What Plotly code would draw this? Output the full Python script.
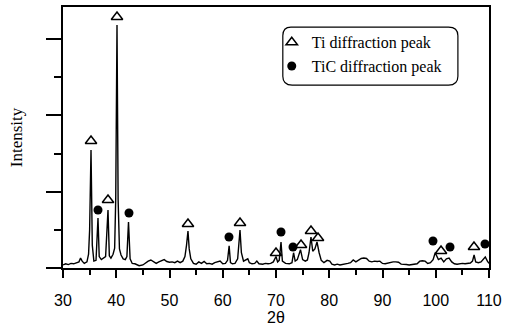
import plotly.graph_objects as go

# XRD pattern (2theta, intensity)
two_theta = [30.0, 30.5, 31.0, 31.5, 32.0, 32.5, 33.0, 33.3, 33.6, 34.0, 34.5, 34.8, 35.0, 35.26, 35.5, 35.8,
             36.2, 36.57, 36.8, 37.2, 37.6, 38.0, 38.45, 38.7, 39.0, 39.4, 39.7, 39.9, 40.14, 40.35, 40.6,
             40.9, 41.3, 41.7, 42.0, 42.3, 42.6, 43.0, 43.5, 44.0, 44.3, 45.0, 45.5, 46.0, 46.5, 47.0, 47.5,
             48.0, 48.5, 49.0, 49.5, 50.0, 50.5, 51.0, 51.5, 52.0, 52.5, 52.9, 53.2, 53.47, 53.7, 54.0, 54.5,
             55.0, 55.5, 56.0, 56.5, 57.0, 57.5, 58.0, 58.5, 59.0, 59.5, 60.0, 60.5, 60.9, 61.2, 61.45, 61.8,
             62.3, 62.8, 63.24, 63.5, 63.9, 64.3, 64.7, 65.0, 65.5, 66.0, 66.4, 66.8, 67.5, 68.0, 68.5, 69.0,
             69.5, 70.0, 70.3, 70.6, 70.94, 71.2, 71.8, 72.5, 73.0, 73.3, 73.6, 74.0, 74.6, 75.0, 75.5, 75.9,
             76.2, 76.57, 76.9, 77.3, 77.7, 78.1, 78.5, 79.0, 79.6, 80.1, 80.5, 81.0, 81.5, 82.0, 82.5, 83.0,
             83.5, 84.0, 84.5, 85.0, 85.5, 86.0, 86.5, 87.0, 87.5, 88.0, 88.5, 89.0, 89.5, 90.0, 90.5, 91.0,
             91.5, 92.0, 92.5, 93.0, 93.5, 94.0, 94.5, 95.0, 95.5, 96.0, 96.5, 97.0, 97.5, 98.0, 98.5, 99.0,
             99.5, 99.9, 100.5, 101.0, 101.5, 102.0, 102.5, 103.0, 103.5, 104.0, 104.5, 105.0, 105.5, 106.0,
             106.5, 106.9, 107.2, 107.5, 108.0, 108.5, 109.0, 109.3, 109.7, 110.0]
intensity = [40, 55, 45, 60, 55, 65, 80, 130, 90, 60, 80, 180, 500, 1546, 300, 90,
             100, 655, 150, 110, 130, 150, 760, 160, 130, 180, 260, 900, 3183, 900, 250,
             170, 120, 110, 150, 603, 120, 60, 55, 40, 30, 40, 70, 90, 105, 80, 60,
             80, 100, 110, 85, 75, 80, 70, 90, 70, 90, 150, 300, 485, 250, 120, 60,
             50, 80, 60, 85, 55, 60, 50, 70, 85, 90, 55, 60, 100, 290, 70, 55,
             60, 120, 498, 200, 90, 100, 120, 70, 55, 60, 90, 55, 50, 60, 55, 60,
             80, 150, 80, 100, 340, 90, 60, 55, 70, 200, 90, 110, 240, 110, 90, 105,
             200, 406, 220, 250, 341, 200, 100, 70, 100, 90, 50, 40, 50, 40, 45, 55,
             60, 70, 105, 80, 100, 125, 130, 125, 90, 80, 90, 85, 90, 60, 55, 65,
             80, 80, 80, 75, 50, 50, 45, 40, 45, 50, 55, 90, 95, 90, 60, 70,
             110, 200, 110, 130, 80, 120, 130, 80, 55, 50, 55, 60, 55, 60,
             65, 90, 170, 80, 70, 80, 130, 144, 90, 60]

# Peak identification markers
ti_x = [35.26, 40.14, 38.45, 53.47, 63.24, 70.0, 74.7, 76.57, 77.89, 100.99, 107.18]
ti_y = [1664, 3288, 891, 576, 590, 197, 301, 485, 393, 223, 275]
tic_x = [36.57, 42.39, 61.17, 70.94, 73.19, 99.48, 102.68, 109.25]
tic_y = [760, 720, 406, 472, 275, 354, 275, 314]

x_ticks = [30, 40, 50, 60, 70, 80, 90, 100, 110]

fig = go.Figure()
fig.add_trace(go.Scatter(x=two_theta, y=intensity, mode="lines",
                         line=dict(color="black", width=1.4), showlegend=False,
                         hoverinfo="skip"))
fig.add_trace(go.Scatter(x=ti_x, y=ti_y, mode="markers", name="Ti diffraction peak",
                         marker=dict(symbol="triangle-up-open", size=10, color="black",
                                     line=dict(width=1.5, color="black"))))
fig.add_trace(go.Scatter(x=tic_x, y=tic_y, mode="markers", name="TiC diffraction peak",
                         marker=dict(symbol="circle", size=9, color="black")))

serif = "Liberation Serif, Times New Roman, serif"
sans = "Liberation Sans, Arial, sans-serif"

fig.update_layout(
    width=511, height=327,
    margin=dict(l=63, r=22, t=7, b=59, autoexpand=False),
    paper_bgcolor="white", plot_bgcolor="white",
    font=dict(family=sans, color="black", size=16),
    legend=dict(x=0.49, y=0.93, xanchor="left", yanchor="top",
                bgcolor="rgba(0,0,0,0)", borderwidth=0,
                font=dict(family=serif, size=16, color="black"),
                tracegroupgap=0, itemwidth=30),
    xaxis=dict(range=[30, 110], tickvals=x_ticks, ticktext=[str(v) for v in x_ticks],
               showgrid=False, zeroline=False, automargin=False,
               showline=True, linecolor="black", linewidth=2, mirror=True,
               ticks="outside", ticklen=8, tickwidth=2, tickcolor="black",
               ticklabelstandoff=9,
               minor=dict(dtick=5, tick0=30, ticks="outside", ticklen=5, tickwidth=2, tickcolor="black"),
               tickfont=dict(family=sans, size=16, color="black"),
               title=dict(text="2θ", font=dict(family=sans, size=16, color="black"), standoff=1)),
    yaxis=dict(range=[0, 3420], tick0=0, dtick=1000, showticklabels=False,
               showgrid=False, zeroline=False, automargin=False,
               showline=True, linecolor="black", linewidth=2, mirror=True,
               ticks="outside", ticklen=15, tickwidth=2, tickcolor="black",
               minor=dict(dtick=500, ticks="outside", ticklen=7, tickwidth=2, tickcolor="black"),
               title=dict(text="Intensity", font=dict(family=serif, size=17, color="black"), standoff=19)),
    shapes=[dict(type="path", xref="paper", yref="paper",
                 path="M 0.535,0.923 L 0.905,0.923 Q 0.927,0.923 0.927,0.89 L 0.927,0.735 "
                      "Q 0.927,0.701 0.905,0.701 L 0.538,0.701 Q 0.516,0.701 0.516,0.735 "
                      "L 0.516,0.89 Q 0.516,0.923 0.535,0.923 Z",
                 line=dict(color="black", width=1.2), fillcolor="rgba(0,0,0,0)")],
)

fig.write_html("out.html", config={"displayModeBar": False},
               post_script="document.body.style.margin='0';")
